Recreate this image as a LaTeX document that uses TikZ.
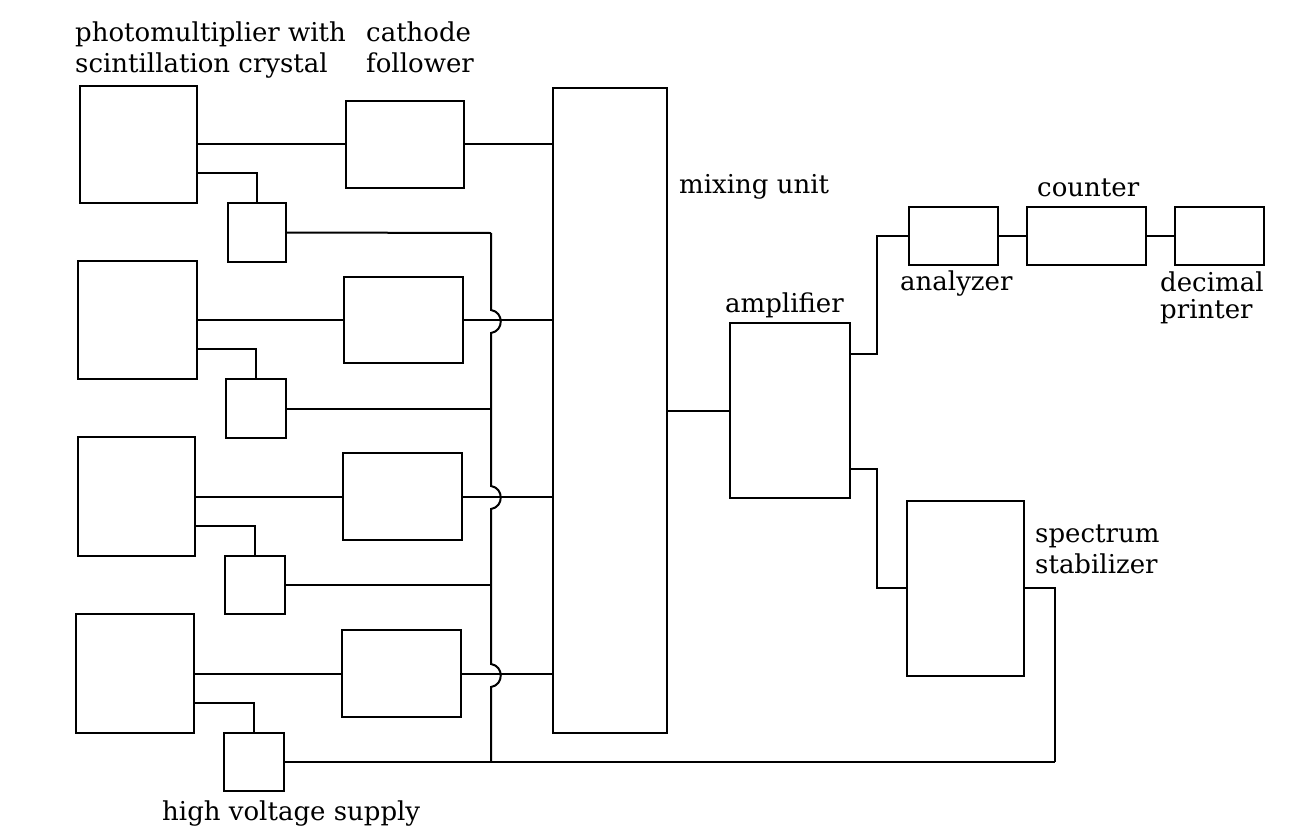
\documentclass[tikz,border=0pt]{standalone}
\usepackage{fontspec}
\setmainfont{DejaVu Serif}
\usetikzlibrary{calc}
\begin{document}
\begin{tikzpicture}[x=1pt,y=-1pt,
  wire/.style={line width=2pt, line join=miter},
  blk/.style={draw, line width=2pt, rectangle, inner sep=0pt, minimum width=#1},
  lbl/.style={anchor=base west, inner sep=0pt, font=\fontsize{26}{30.5}\selectfont, align=left}]
\useasboundingbox (0,0) rectangle (1307,830);
% photomultipliers
\node[blk=117pt, minimum height=117pt] (pm1) at (138.5,144) {};
\node[blk=119pt, minimum height=118pt] (pm2) at (137.5,320) {};
\node[blk=117pt, minimum height=119pt] (pm3) at (136.5,496.5) {};
\node[blk=118pt, minimum height=119pt] (pm4) at (135,673.5) {};
% cathode followers
\node[blk=118pt, minimum height=87pt] (cf1) at (405,144) {};
\node[blk=119pt, minimum height=86pt] (cf2) at (403.5,320) {};
\node[blk=119pt, minimum height=87pt] (cf3) at (402.5,496.5) {};
\node[blk=119pt, minimum height=87pt] (cf4) at (401.5,673.5) {};
% high voltage supplies
\node[blk=58pt, minimum height=59pt] (hv1) at (257,232.5) {};
\node[blk=60pt, minimum height=59pt] (hv2) at (256,408.5) {};
\node[blk=60pt, minimum height=58pt] (hv3) at (255,585) {};
\node[blk=60pt, minimum height=58pt] (hv4) at (253.5,762) {};
% mixing unit and chain
\node[blk=114pt, minimum height=645pt] (mix) at (610,410.5) {};
\node[blk=120pt, minimum height=175pt] (amp) at (790,410.5) {};
\node[blk=89pt, minimum height=58pt] (ana) at (953.5,236) {};
\node[blk=119pt, minimum height=58pt] (cnt) at (1086.5,236) {};
\node[blk=89pt, minimum height=58pt] (prn) at (1219.5,236) {};
\node[blk=117pt, minimum height=175pt] (stab) at (965.5,588) {};
% bus and bend coordinates
\coordinate (bt) at (491,233);
\coordinate (bb) at (491,762);
\coordinate (ret) at (1055,762);
\coordinate (kup) at (877,236);
\coordinate (kdn) at (877,588);
% signal lines
\draw[wire] (pm1.east) -- (cf1.west);
\draw[wire] (pm2.east) -- (cf2.west);
\draw[wire] (pm3.east) -- (cf3.west);
\draw[wire] (pm4.east) -- (cf4.west);
\draw[wire] (cf1.east) -- (cf1.east -| mix.west);
\draw[wire] (cf2.east) -- (cf2.east -| mix.west);
\draw[wire] (cf3.east) -- (cf3.east -| mix.west);
\draw[wire] (cf4.east) -- (cf4.east -| mix.west);
% HV feeds
\draw[wire] ($(pm1.east)+(0,29)$) -| (hv1.north);
\draw[wire] ($(pm2.east)+(0,29)$) -| (hv2.north);
\draw[wire] ($(pm3.east)+(0,29)$) -| (hv3.north);
\draw[wire] ($(pm4.east)+(0,29)$) -| (hv4.north);
\draw[wire] (hv1.east) -- (bt);
\draw[wire] (hv2.east) -- (hv2.east -| bt);
\draw[wire] (hv3.east) -- (hv3.east -| bt);
\draw[wire] (hv4.east) -- (bb) -- (ret);
% bus with hop-overs
\draw[wire] (bt) -- (491,310) .. controls (504,312) and (504,331) .. (491,333)
  -- (491,486) .. controls (504,488) and (504,507) .. (491,509)
  -- (491,664) .. controls (504,666) and (504,685) .. (491,687) -- (bb);
% right side
\draw[wire] (mix.east |- amp.west) -- (amp.west);
\draw[wire] ($(amp.east)+(0,-57)$) -| (kup) -- (ana.west);
\draw[wire] (ana.east) -- (cnt.west);
\draw[wire] (cnt.east) -- (prn.west);
\draw[wire] ($(amp.east)+(0,58)$) -| (kdn) -- (stab.west);
\draw[wire] (stab.east) -| (ret);
% labels (anchor at baseline of last line)
\node[lbl] (l1) at (75,72) {photomultiplier with\\scintillation crystal};
\node[lbl] (l2) at (366,72) {cathode\\follower};
\node[lbl] (l3) at (679,193) {mixing unit};
\node[lbl] (l4) at (725,312) {amplifier};
\node[lbl] (l5) at (1037,196) {counter};
\node[lbl] (l6) at (900,290) {analyzer};
\node[lbl, font=\fontsize{26}{27}\selectfont] (l7) at (1160,318) {decimal\\printer};
\node[lbl] (l8) at (1035,573) {spectrum\\stabilizer};
\node[lbl] (l9) at (162,820) {high voltage supply};
\end{tikzpicture}
\end{document}
